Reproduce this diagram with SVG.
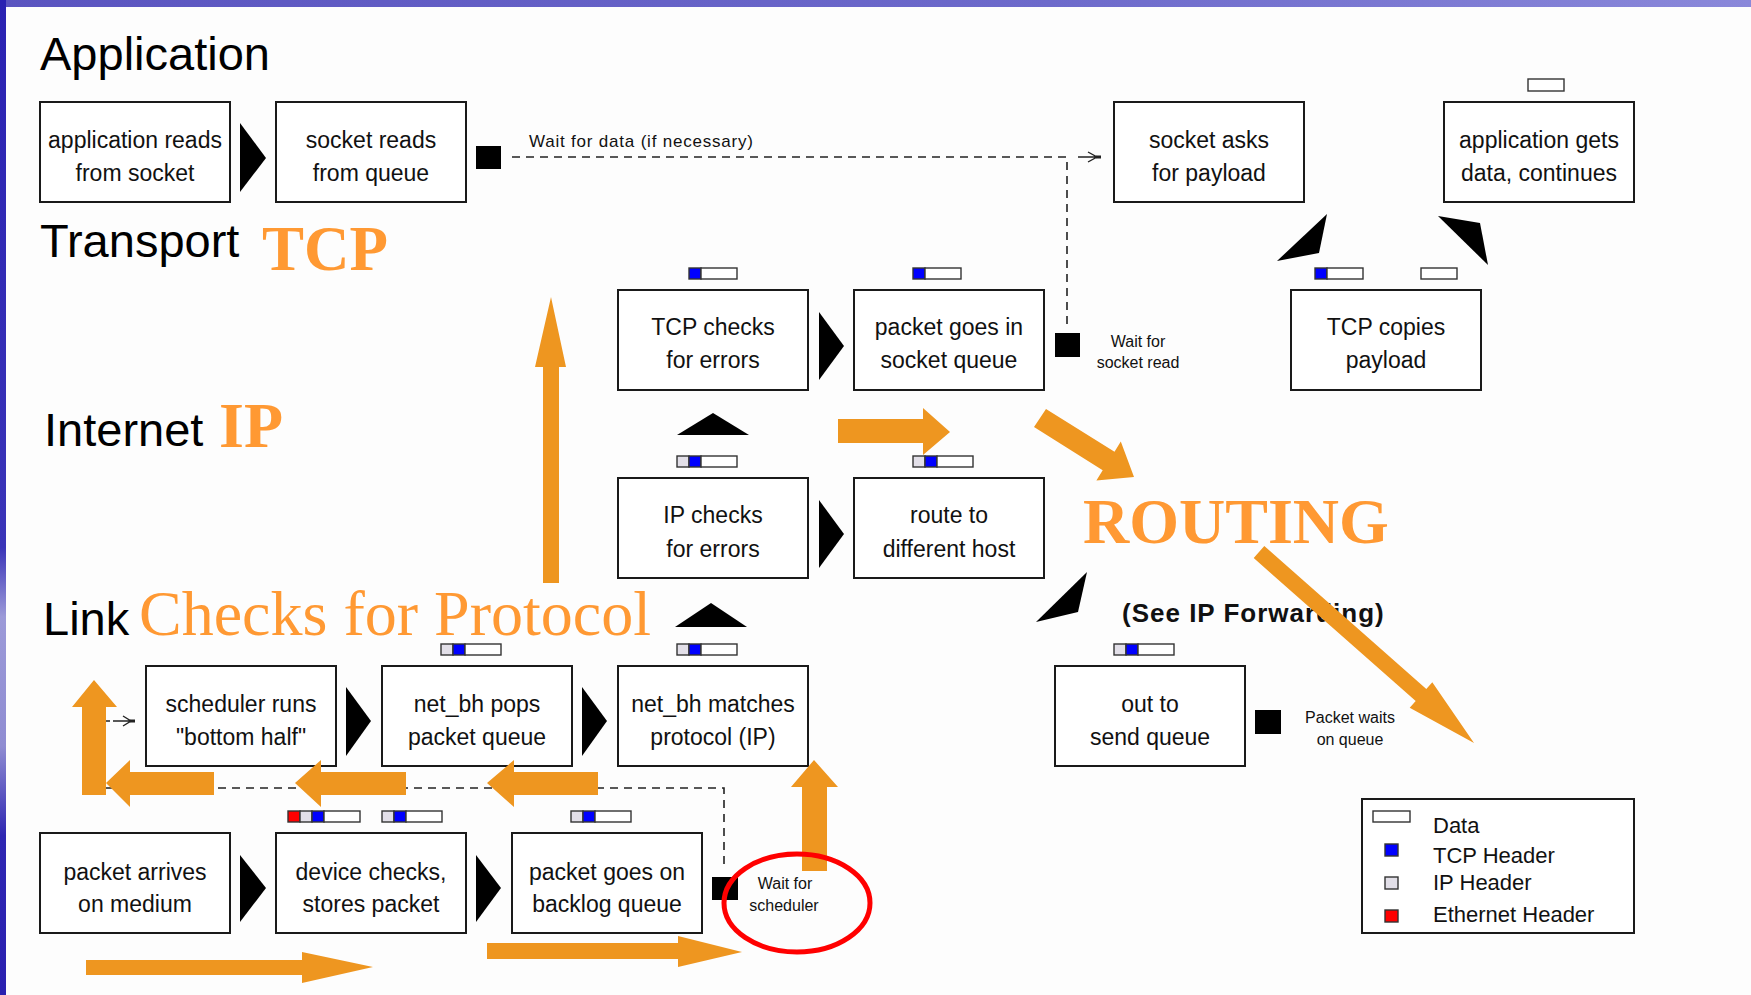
<svg xmlns="http://www.w3.org/2000/svg" width="1751" height="995" viewBox="0 0 1751 995">
<defs>
<linearGradient id="lg" x1="0" y1="0" x2="0" y2="1">
<stop offset="0" stop-color="#2a22b2"/><stop offset="0.55" stop-color="#3a34b8"/><stop offset="0.62" stop-color="#9c9ad8"/><stop offset="0.75" stop-color="#8f8cd2"/><stop offset="0.84" stop-color="#2e26b2"/><stop offset="1" stop-color="#2a20b0"/>
</linearGradient>
<linearGradient id="tg" x1="0" y1="0" x2="1" y2="0">
<stop offset="0" stop-color="#5a54c0"/><stop offset="0.6" stop-color="#6d6acb"/><stop offset="1" stop-color="#8a88da"/>
</linearGradient>
<style>
.box{fill:#fff;stroke:#1a1a1a;stroke-width:2}
.bt{font-family:"Liberation Sans",Arial,sans-serif;font-size:23px;fill:#111;text-anchor:middle}
.st{font-family:"Liberation Sans",Arial,sans-serif;font-size:16px;fill:#111;text-anchor:middle}
.lay{font-family:"Liberation Sans",Arial,sans-serif;font-size:47px;fill:#000}
.org{font-family:"Liberation Serif","Times New Roman",serif;fill:#ff9933}
.tri{fill:#000}
.oa{fill:#ee9620}
.dash{fill:none;stroke:#222;stroke-width:1.6;stroke-dasharray:8,6}
.seg{stroke:#333;stroke-width:1.4}
.d{fill:#fff}.b{fill:#0000ff}.g{fill:#e2dfe8}.r{fill:#ff0000}
.sq{fill:#000}
.stub{fill:none;stroke:#222;stroke-width:1.4}
</style>
</defs>
<rect x="0" y="0" width="1751" height="995" fill="#fdfdfd"/>
<rect x="0" y="0" width="1751" height="7" fill="url(#tg)"/>
<rect x="0" y="0" width="6" height="995" fill="url(#lg)"/>

<g id="layer-labels">
<text class="lay" x="40" y="70">Application</text>
<text class="lay" x="40" y="257">Transport</text>
<text class="lay" x="44" y="446">Internet</text>
<text class="lay" x="43" y="635">Link</text>
</g>

<g id="connectors">
<path class="dash" d="M512,157 H1067 V326"/>
<path class="stub" d="M1078,157 H1097 M1088,152 L1097,157 L1088,162"/>
<rect x="1096" y="155.5" width="5" height="3" fill="#222"/>
<path class="dash" d="M724,864 V788 H94 V721 H110"/>
<path class="stub" d="M113,721 H131 M123,716 L131,721 L123,726"/>
<rect x="130" y="719.5" width="5" height="3" fill="#222"/>
<polygon class="tri" points="240,123 266,158 240,192"/>
<polygon class="tri" points="819,312 844,346 819,380"/>
<polygon class="tri" points="819,500 844,534 819,568"/>
<polygon class="tri" points="346,687 371,721 346,756"/>
<polygon class="tri" points="582,687 607,721 582,756"/>
<polygon class="tri" points="240,855 266,888 240,922"/>
<polygon class="tri" points="476,855 501,888 476,922"/>
<polygon class="tri" points="677,435 713,413 749,435"/>
<polygon class="tri" points="675,627 711,603 747,627"/>
<polygon class="tri" points="1087,572 1036,622 1078,612"/>
<polygon class="tri" points="1327,214 1277,261 1319,253"/>
<polygon class="tri" points="1438,216 1480,223 1488,265"/>
</g>

<g id="wait-squares">
<rect class="sq" x="476" y="146" width="25" height="23"/>
<rect class="sq" x="1055" y="333" width="25" height="24"/>
<text class="st" x="1138" y="347">Wait for</text>
<text class="st" x="1138" y="368">socket read</text>
<rect class="sq" x="712" y="877" width="26" height="23"/>
<text class="st" x="785" y="889">Wait for</text>
<text class="st" x="784" y="911">scheduler</text>
<rect class="sq" x="1255" y="710" width="26" height="24"/>
<text class="st" x="1350" y="723">Packet waits</text>
<text class="st" x="1350" y="745">on queue</text>
<text x="529" y="147" font-family="Liberation Sans, Arial, sans-serif" font-size="17" fill="#111" textLength="224">Wait for data (if necessary)</text>
</g>

<g id="n-app-reads"><rect class="box" x="40" y="102" width="190" height="100"/><text class="bt" x="135" y="148">application reads</text><text class="bt" x="135" y="181">from socket</text></g>
<g id="n-socket-reads"><rect class="box" x="276" y="102" width="190" height="100"/><text class="bt" x="371" y="148">socket reads</text><text class="bt" x="371" y="181">from queue</text></g>
<g id="n-socket-asks"><rect class="box" x="1114" y="102" width="190" height="100"/><text class="bt" x="1209" y="148">socket asks</text><text class="bt" x="1209" y="181">for payload</text></g>
<g id="n-app-gets"><rect class="box" x="1444" y="102" width="190" height="100"/><text class="bt" x="1539" y="148">application gets</text><text class="bt" x="1539" y="181">data, continues</text></g>
<g id="n-tcp-checks"><rect class="box" x="618" y="290" width="190" height="100"/><text class="bt" x="713" y="335">TCP checks</text><text class="bt" x="713" y="368">for errors</text></g>
<g id="n-socket-queue"><rect class="box" x="854" y="290" width="190" height="100"/><text class="bt" x="949" y="335">packet goes in</text><text class="bt" x="949" y="368">socket queue</text></g>
<g id="n-tcp-copies"><rect class="box" x="1291" y="290" width="190" height="100"/><text class="bt" x="1386" y="335">TCP copies</text><text class="bt" x="1386" y="368">payload</text></g>
<g id="n-ip-checks"><rect class="box" x="618" y="478" width="190" height="100"/><text class="bt" x="713" y="523">IP checks</text><text class="bt" x="713" y="557">for errors</text></g>
<g id="n-route"><rect class="box" x="854" y="478" width="190" height="100"/><text class="bt" x="949" y="523">route to</text><text class="bt" x="949" y="557">different host</text></g>
<g id="n-scheduler"><rect class="box" x="146" y="666" width="190" height="100"/><text class="bt" x="241" y="712">scheduler runs</text><text class="bt" x="241" y="745">"bottom half"</text></g>
<g id="n-netbh-pops"><rect class="box" x="382" y="666" width="190" height="100"/><text class="bt" x="477" y="712">net_bh pops</text><text class="bt" x="477" y="745">packet queue</text></g>
<g id="n-netbh-matches"><rect class="box" x="618" y="666" width="190" height="100"/><text class="bt" x="713" y="712">net_bh matches</text><text class="bt" x="713" y="745">protocol (IP)</text></g>
<g id="n-send-queue"><rect class="box" x="1055" y="666" width="190" height="100"/><text class="bt" x="1150" y="712">out to</text><text class="bt" x="1150" y="745">send queue</text></g>
<g id="n-arrives"><rect class="box" x="40" y="833" width="190" height="100"/><text class="bt" x="135" y="880">packet arrives</text><text class="bt" x="135" y="912">on medium</text></g>
<g id="n-device"><rect class="box" x="276" y="833" width="190" height="100"/><text class="bt" x="371" y="880">device checks,</text><text class="bt" x="371" y="912">stores packet</text></g>
<g id="n-backlog"><rect class="box" x="512" y="833" width="190" height="100"/><text class="bt" x="607" y="880">packet goes on</text><text class="bt" x="607" y="912">backlog queue</text></g>

<g id="packets" class="seg">
<rect class="d" x="1528" y="79" width="36" height="12"/>
<rect class="b" x="689" y="268" width="12" height="11"/><rect class="d" x="701" y="268" width="36" height="11"/>
<rect class="b" x="913" y="268" width="12" height="11"/><rect class="d" x="925" y="268" width="36" height="11"/>
<rect class="b" x="1315" y="268" width="12" height="11"/><rect class="d" x="1327" y="268" width="36" height="11"/>
<rect class="d" x="1421" y="268" width="36" height="11"/>
<rect class="g" x="677" y="456" width="12" height="11"/><rect class="b" x="689" y="456" width="12" height="11"/><rect class="d" x="701" y="456" width="36" height="11"/>
<rect class="g" x="913" y="456" width="12" height="11"/><rect class="b" x="925" y="456" width="12" height="11"/><rect class="d" x="937" y="456" width="36" height="11"/>
<rect class="g" x="441" y="644" width="12" height="11"/><rect class="b" x="453" y="644" width="12" height="11"/><rect class="d" x="465" y="644" width="36" height="11"/>
<rect class="g" x="677" y="644" width="12" height="11"/><rect class="b" x="689" y="644" width="12" height="11"/><rect class="d" x="701" y="644" width="36" height="11"/>
<rect class="g" x="1114" y="644" width="12" height="11"/><rect class="b" x="1126" y="644" width="12" height="11"/><rect class="d" x="1138" y="644" width="36" height="11"/>
<rect class="r" x="288" y="811" width="12" height="11"/><rect class="g" x="300" y="811" width="12" height="11"/><rect class="b" x="312" y="811" width="12" height="11"/><rect class="d" x="324" y="811" width="36" height="11"/>
<rect class="g" x="382" y="811" width="12" height="11"/><rect class="b" x="394" y="811" width="12" height="11"/><rect class="d" x="406" y="811" width="36" height="11"/>
<rect class="g" x="571" y="811" width="12" height="11"/><rect class="b" x="583" y="811" width="12" height="11"/><rect class="d" x="595" y="811" width="36" height="11"/>
</g>

<g id="legend">
<rect class="box" x="1362" y="799" width="272" height="134"/>
<rect class="d seg" x="1373" y="811" width="37" height="11"/>
<rect class="b seg" x="1385" y="844" width="13" height="12"/>
<rect class="g seg" x="1385" y="877" width="13" height="12"/>
<rect class="r seg" x="1385" y="910" width="13" height="12"/>
<text x="1433" y="833" font-family="Liberation Sans, Arial, sans-serif" font-size="22" fill="#111">Data</text>
<text x="1433" y="863" font-family="Liberation Sans, Arial, sans-serif" font-size="22" fill="#111">TCP Header</text>
<text x="1433" y="890" font-family="Liberation Sans, Arial, sans-serif" font-size="22" fill="#111">IP Header</text>
<text x="1433" y="922" font-family="Liberation Sans, Arial, sans-serif" font-size="22" fill="#111">Ethernet Header</text>
</g>

<g id="see-ip">
<text x="1122" y="622" font-family="Liberation Sans, Arial, sans-serif" font-size="26" font-weight="bold" fill="#111" letter-spacing="1">(See IP Forwarding)</text>
</g>

<g id="annotations">
<text class="org" x="262" y="270" font-size="63" font-weight="bold">TCP</text>
<text class="org" x="219" y="447" font-size="64" font-weight="bold">IP</text>
<text class="org" x="1083" y="543" font-size="64" font-weight="bold">ROUTING</text>
<text class="org" x="139" y="635" font-size="64">Checks for Protocol</text>
</g>

<g id="orange-arrows">
<polygon class="oa" points="543,583 543,367 535,367 551,297 566,367 559,367 559,583"/>
<polygon class="oa" points="838,419 923,419 923,408 950,432 923,455 923,443 838,443"/>
<polygon class="oa" points="1034,427 1046,409 1114.5,451.7 1120.8,441.5 1134,477 1096.4,480.5 1102.7,470.3"/>
<polygon class="oa" points="1253.7,558 1264.3,546 1426.3,689 1432.3,682.3 1474,743 1409.7,707.7 1415.7,701"/>
<polygon class="oa" points="82,795 82,707 72,707 94,680 117,707 106,707 106,795"/>
<polygon class="oa" points="214,772 130,772 130,760 106,783 130,807 130,795 214,795"/>
<polygon class="oa" points="406,772 321,772 321,760 295,783 321,807 321,795 406,795"/>
<polygon class="oa" points="598,772 514,772 514,760 487,783 514,807 514,795 598,795"/>
<polygon class="oa" points="802,871 802,787 791,787 814,760 838,787 827,787 827,871"/>
<polygon class="oa" points="86,960 302,960 302,952 373,967 302,983 302,975 86,975"/>
<polygon class="oa" points="487,943 678,943 678,936 742,952 678,967 678,959 487,959"/>
</g>

<ellipse cx="797" cy="903" rx="73" ry="49" fill="none" stroke="#ff0000" stroke-width="5"/>
</svg>
